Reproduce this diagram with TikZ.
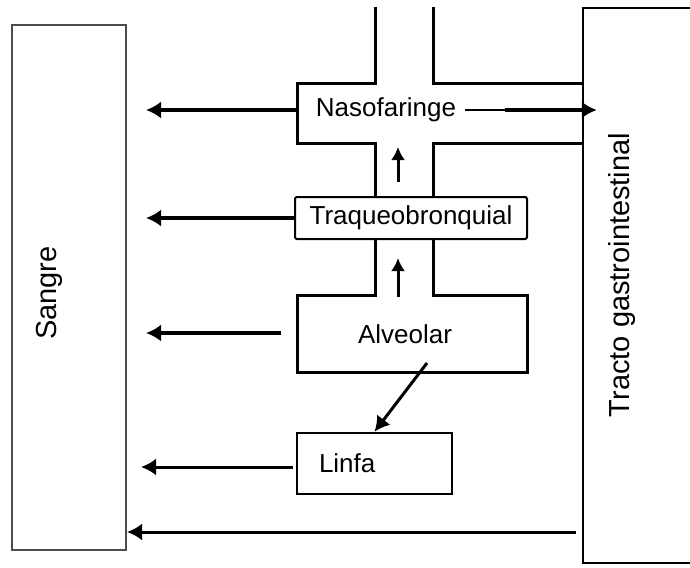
\documentclass[tikz,border=0pt]{standalone}
\usepackage{fontspec}
\setmainfont{Liberation Sans}
\usetikzlibrary{arrows.meta,positioning}

\begin{document}
\begin{tikzpicture}[x=1pt,y=-1pt,node font=\fontsize{26}{28}\selectfont,>={Latex[length=15pt,width=17pt]}]
	\tikzstyle{box}=[draw,line width=2.5pt]
	\tikzstyle{side}=[draw,line width=2pt,inner sep=0pt]
	\tikzstyle{sidetext}=[rotate=90,font=\fontsize{29}{30}\selectfont]
	\tikzstyle{pipe}=[line width=3pt]
	\tikzstyle{flow}=[->,line width=3.5pt]
	\tikzstyle{up}=[-{Latex[length=13pt,width=14pt]},line width=3pt]
	\useasboundingbox (0,0) rectangle (690,567);
	
	% compartimentos laterales
	\node[side,draw=black!70,minimum width=114pt,minimum height=525pt] (Sangre) at (69,287.5) {};
	\node[sidetext] (SangreT) at (49,293) {Sangre};
	\node[side,line width=2.5pt,minimum width=117pt,minimum height=555pt] (Tracto) at (641.5,285.5) {};
	\node[sidetext] (TractoT) at (622,275) {Tracto gastrointestinal};
	
	% vias respiratorias
	\draw[pipe] (375,7) -- (375,84) -- (297,84) -- (297,143) -- (375,143) -- (375,197);
	\draw[pipe] (433,7) -- (433,84) -- (Tracto.west |- 0,84);
	\draw[pipe] (Tracto.west |- 0,143) -- (433,143) -- (433,197);
	\draw[pipe] (375,239) -- (375,295) -- (297,295) -- (297,372) -- (527,372) -- (527,295) -- (433,295) -- (433,239);
	
	\node (Naso) at (386,110) {Nasofaringe};
	\node[draw,line width=2pt,rounded corners=2pt,minimum width=232pt,minimum height=42pt] (Traq) at (411,218) {Traqueobronquial};
	\node (Alv) at (405,334) {Alveolar};
	\node[box,inner xsep=22pt,text width=111pt,align=left,minimum height=61pt] (Linfa) at (374.5,463.5) {Linfa};
	
	\coordinate (NasoW) at (297,110);
	\coordinate (AlvW) at (281,333);
	\coordinate (AlvS) at (427,363);
	\coordinate (LinfaW) at (293,467);
	\coordinate (TraqN) at (398,147);
	\coordinate (TraqS) at (398,182);
	\coordinate (AlvN) at (398,258);
	\coordinate (AlvT) at (398,297);
	
	% flujos
	\draw[flow,line width=4.5pt,shorten >=19pt] (NasoW) -- (Sangre.east |- NasoW);
	\draw[line width=1.5pt] (Naso.east) -- ++(40,0) coordinate (NasoM);
	\draw[flow,line width=4.5pt] (NasoM) -- ([xshift=15pt]Tracto.west |- NasoM);
	\draw[flow,shorten >=19pt] (Traq.west) -- (Sangre.east |- Traq.west);
	\draw[flow,shorten >=19pt] (AlvW) -- (Sangre.east |- AlvW);
	\draw[flow,line width=3pt,shorten >=14pt] (LinfaW) -- (Sangre.east |- LinfaW);
	\draw[flow,line width=3pt,shorten <=6pt] (Tracto.west |- 0,532) -- (Sangre.east |- 0,532);
	\draw[up] (TraqS) -- (TraqN);
	\draw[up] (AlvT) -- (AlvN);
	\draw[flow,line width=3pt] (AlvS) -- (Linfa.north);
\end{tikzpicture}
\end{document}
